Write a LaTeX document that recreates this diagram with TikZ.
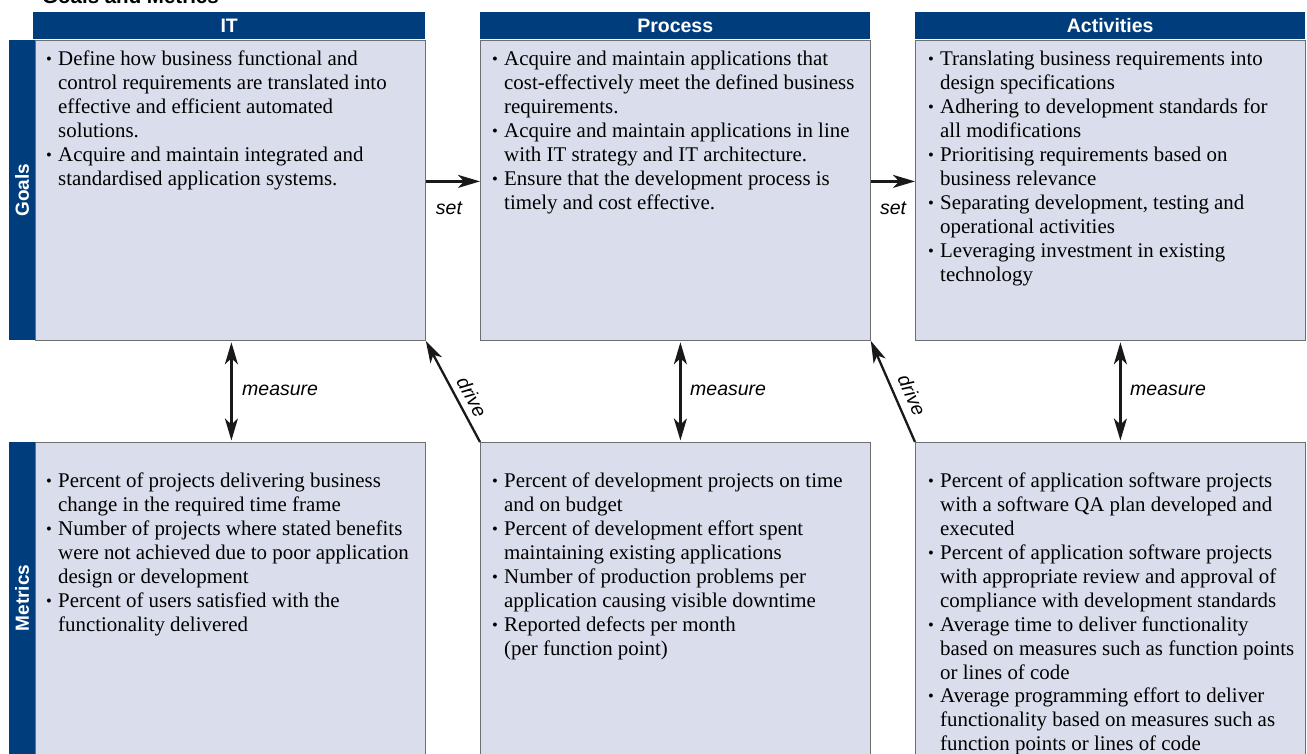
\documentclass[tikz,border=0pt]{standalone}
\usepackage{fontspec}
\setmainfont{Liberation Serif}
\setsansfont{Liberation Sans}
\usetikzlibrary{arrows.meta}
\definecolor{hdrblue}{HTML}{003D7C}
\definecolor{boxfill}{HTML}{DADDEB}
\definecolor{boxline}{HTML}{6E6E6E}
\newcommand\bu{\makebox[12pt][l]{\raisebox{1.0pt}{\fontsize{16.5}{16.5}\selectfont\textbullet}}}
\newcommand\ct{\hspace*{12pt}}
\begin{document}
\begin{tikzpicture}[x=1pt,y=-1pt,
  cell/.style={draw=boxline, line width=0.8pt, fill=boxfill, minimum width=390pt, inner sep=0pt, anchor=north west},
  hdr/.style={fill=hdrblue, text=white, inner sep=0pt, anchor=north west, minimum height=27pt, font=\sffamily\bfseries\fontsize{19.5}{22}\selectfont},
  side/.style={fill=hdrblue, inner sep=0pt, anchor=north west, minimum width=26pt},
  sidetext/.style={rotate=90, text=white, inner sep=0pt, font=\sffamily\bfseries\fontsize{19}{22}\selectfont},
  txt/.style={anchor=north west, align=left, inner sep=0pt, font=\fontsize{20.9}{23.95}\selectfont},
  lbl/.style={inner sep=0pt, font=\sffamily\itshape\fontsize{19.5}{22}\selectfont},
  arr/.style={draw=black!90, line width=2.3pt, -{Stealth[length=22pt,width=13pt,inset=6pt]}},
  darr/.style={draw=black!90, line width=2.3pt, {Stealth[length=22pt,width=13pt,inset=6pt]}-{Stealth[length=22pt,width=13pt,inset=6pt]}}
]
\useasboundingbox (0,0) rectangle (1307,754);

% title (cut off at top)
\node[anchor=base west, inner sep=0pt, font=\sffamily\bfseries\fontsize{20.5}{24}\selectfont] (title) at (42,4) {Goals and Metrics};

% headers
\node[hdr, minimum width=392pt] (ith) at (33,12) {IT};
\node[hdr, minimum width=390pt] (prh) at (480,12) {Process};
\node[hdr, minimum width=390pt] (ach) at (915,12) {Activities};

% goal boxes
\node[cell, minimum height=300pt] (ig) at (35,40) {};
\node[cell, minimum height=300pt] (pg) at (480,40) {};
\node[cell, minimum height=300pt] (ag) at (915,40) {};

% metric boxes
\node[cell, minimum height=330pt] (im) at (35,442) {};
\node[cell, minimum height=330pt] (pm) at (480,442) {};
\node[cell, minimum height=330pt] (am) at (915,442) {};

% side bars
\node[side, minimum height=300pt] (gs) at (9,40) {};
\node[sidetext] (gst) at (gs.center) {Goals};
\node[side, minimum height=330pt] (ms) at (9,442) {};
\node[sidetext] (mst) at (22,598) {Metrics};

% goal texts
\node[txt] (igt) at (46,50.8) {\bu Define how business functional and\\
\ct control requirements are translated into\\
\ct effective and efficient automated\\
\ct solutions.\\
\bu Acquire and maintain integrated and\\
\ct standardised application systems.};

\node[txt] (pgt) at (492,50.8) {\bu Acquire and maintain applications that\\
\ct cost-effectively meet the defined business\\
\ct requirements.\\
\bu Acquire and maintain applications in line\\
\ct with IT strategy and IT architecture.\\
\bu Ensure that the development process is\\
\ct timely and cost effective.};

\node[txt] (agt) at (928,50.8) {\bu Translating business requirements into\\
\ct design specifications\\
\bu Adhering to development standards for\\
\ct all modifications\\
\bu Prioritising requirements based on\\
\ct business relevance\\
\bu Separating development, testing and\\
\ct operational activities\\
\bu Leveraging investment in existing\\
\ct technology};

% metric texts
\node[txt] (imt) at (46,472.5) {\bu Percent of projects delivering business\\
\ct change in the required time frame\\
\bu Number of projects where stated benefits\\
\ct were not achieved due to poor application\\
\ct design or development\\
\bu Percent of users satisfied with the\\
\ct functionality delivered};

\node[txt] (pmt) at (492,472.5) {\bu Percent of development projects on time\\
\ct and on budget\\
\bu Percent of development effort spent\\
\ct maintaining existing applications\\
\bu Number of production problems per\\
\ct application causing visible downtime\\
\bu Reported defects per month\\
\ct (per function point)};

\node[txt] (amt) at (928,472.5) {\bu Percent of application software projects\\
\ct with a software QA plan developed and\\
\ct executed\\
\bu Percent of application software projects\\
\ct with appropriate review and approval of\\
\ct compliance with development standards\\
\bu Average time to deliver functionality\\
\ct based on measures such as function points\\
\ct or lines of code\\
\bu Average programming effort to deliver\\
\ct functionality based on measures such as\\
\ct function points or lines of code};

% set arrows
\draw[arr] ([yshift=9pt]ig.east) -- ([yshift=9pt]pg.west);
\draw[arr] ([yshift=9pt]pg.east) -- ([yshift=9pt]ag.west);
\node[lbl] (set1) at (449,208) {set};
\node[lbl] (set2) at (893,208) {set};

% measure arrows
\draw[darr] ([xshift=1pt,yshift=-1.5pt]ig.south) -- ([xshift=1pt,yshift=1.5pt]im.north);
\draw[darr] ([xshift=5pt,yshift=-1.5pt]pg.south) -- ([xshift=5pt,yshift=1.5pt]pm.north);
\draw[darr] ([xshift=10pt,yshift=-1.5pt]ag.south) -- ([xshift=10pt,yshift=1.5pt]am.north);
\node[lbl, anchor=west] (m1) at (242,390) {measure};
\node[lbl, anchor=west] (m2) at (690,390) {measure};
\node[lbl, anchor=west] (m3) at (1130,390) {measure};

% drive arrows
\draw[arr] (pm.north west) -- (ig.south east);
\draw[arr] (am.north west) -- (pg.south east);
\node[lbl, rotate=-62] (d1) at (472,397) {drive};
\node[lbl, rotate=-66] (d2) at (912,395) {drive};
\end{tikzpicture}
\end{document}
